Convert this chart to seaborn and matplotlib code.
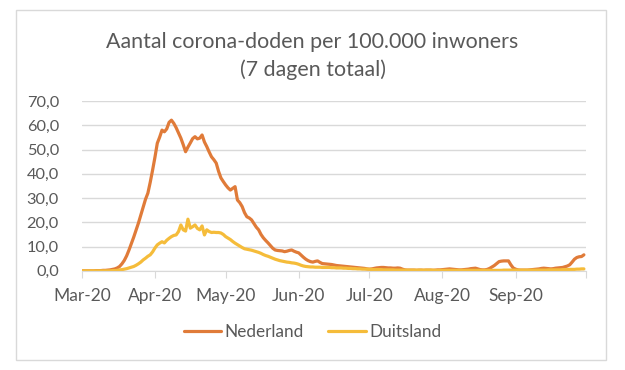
import matplotlib.pyplot as plt
import matplotlib.dates as mdates
from matplotlib.patches import Rectangle
from matplotlib.ticker import FuncFormatter
import seaborn as sb
import pandas as pd


# 7-day totals per 100,000 inhabitants, daily from 1 Mar 2020 to 30 Sep 2020
first_day = '2020-03-01'
last_day = '2020-09-30'

nederland = [
    0.0, 0.0, 0.0, 0.0, 0.0, 0.0, 0.1,
    0.1, 0.1, 0.2, 0.2, 0.3, 0.4, 0.6,
    0.8, 1.2, 1.8, 2.9, 4.3, 6.2, 8.6,
    11.2, 13.9, 16.8, 19.7, 23.0, 26.4, 29.5,
    32.0, 36.5, 41.5, 46.8, 52.6, 55.1, 58.0,
    57.3, 58.5, 61.2, 62.1, 60.8, 59.0, 56.8,
    54.7, 52.0, 49.1, 51.0, 52.7, 54.5, 55.3,
    54.4, 54.7, 56.0, 53.1, 51.2, 49.0, 47.0,
    45.8, 44.4, 41.0, 38.3, 36.8, 35.4, 34.2,
    33.3, 34.0, 34.7, 29.2, 28.1, 26.5, 24.0,
    22.3, 21.8, 21.0, 19.5, 18.0, 16.9, 15.0,
    13.6, 12.5, 11.5, 10.4, 9.3, 8.6, 8.4,
    8.3, 8.2, 7.9, 8.1, 8.4, 8.6, 8.1,
    7.7, 7.4, 6.5, 5.6, 4.8, 4.2, 3.8,
    3.6, 3.9, 4.1, 3.5, 3.0, 2.9, 2.8,
    2.7, 2.6, 2.4, 2.2, 2.1, 2.0, 1.9,
    1.8, 1.7, 1.6, 1.5, 1.4, 1.3, 1.2,
    1.1, 1.0, 0.8, 0.7, 0.8, 1.0, 1.2,
    1.3, 1.4, 1.4, 1.3, 1.2, 1.2, 1.1,
    1.1, 1.2, 1.1, 0.7, 0.4, 0.3, 0.3,
    0.3, 0.3, 0.2, 0.3, 0.3, 0.2, 0.3,
    0.3, 0.3, 0.2, 0.3, 0.4, 0.4, 0.5,
    0.6, 0.7, 0.8, 0.7, 0.6, 0.5, 0.4,
    0.4, 0.5, 0.6, 0.7, 0.9, 1.0, 1.1,
    0.8, 0.5, 0.4, 0.4, 0.6, 1.0, 1.6,
    2.2, 3.0, 3.8, 4.0, 4.1, 4.1, 4.1,
    2.5, 1.2, 0.7, 0.4, 0.3, 0.3, 0.3,
    0.3, 0.4, 0.5, 0.6, 0.7, 0.8, 1.0,
    1.1, 1.0, 0.9, 0.8, 0.9, 1.1, 1.2,
    1.3, 1.4, 1.7, 2.0, 2.5, 3.6, 4.8,
    5.5, 5.8, 5.9, 6.6,
]

duitsland = [
    0.0, 0.0, 0.0, 0.0, 0.0, 0.0, 0.0,
    0.0, 0.0, 0.0, 0.0, 0.0, 0.0, 0.1,
    0.1, 0.2, 0.4, 0.5, 0.7, 0.9, 1.2,
    1.5, 1.8, 2.3, 2.9, 3.6, 4.5, 5.2,
    6.0, 6.6, 7.8, 9.4, 10.7, 11.4, 12.0,
    11.5, 12.6, 13.4, 14.1, 14.6, 14.8, 16.2,
    18.9, 16.9, 16.4, 21.3, 17.6, 18.2, 18.9,
    17.5, 16.9, 18.5, 14.8, 16.9, 16.2, 15.8,
    15.9, 15.8, 15.8, 15.6, 15.0, 14.1, 13.5,
    12.9, 12.1, 11.4, 10.8, 10.2, 9.6, 9.1,
    8.9, 8.7, 8.5, 8.2, 7.9, 7.6, 7.2,
    6.7, 6.3, 6.0, 5.6, 5.2, 4.8, 4.5,
    4.2, 4.0, 3.8, 3.6, 3.5, 3.3, 3.2,
    3.0, 2.7, 2.3, 2.0, 1.8, 1.7, 1.6,
    1.6, 1.5, 1.5, 1.5, 1.4, 1.4, 1.4,
    1.4, 1.3, 1.3, 1.2, 1.2, 1.2, 1.1,
    1.1, 1.0, 1.0, 0.9, 0.9, 0.8, 0.8,
    0.7, 0.7, 0.7, 0.6, 0.6, 0.5, 0.5,
    0.5, 0.5, 0.4, 0.4, 0.4, 0.4, 0.4,
    0.3, 0.3, 0.3, 0.3, 0.3, 0.3, 0.3,
    0.3, 0.3, 0.3, 0.3, 0.3, 0.3, 0.3,
    0.3, 0.3, 0.3, 0.2, 0.2, 0.2, 0.2,
    0.2, 0.2, 0.2, 0.2, 0.2, 0.2, 0.2,
    0.2, 0.2, 0.2, 0.2, 0.2, 0.2, 0.2,
    0.2, 0.2, 0.2, 0.2, 0.2, 0.2, 0.2,
    0.2, 0.2, 0.2, 0.2, 0.3, 0.3, 0.3,
    0.3, 0.3, 0.3, 0.3, 0.3, 0.3, 0.3,
    0.3, 0.3, 0.3, 0.3, 0.3, 0.3, 0.3,
    0.3, 0.3, 0.4, 0.4, 0.4, 0.4, 0.4,
    0.4, 0.5, 0.5, 0.5, 0.6, 0.6, 0.6,
    0.7, 0.7, 0.8, 0.8,
]

countries = ['Nederland', 'Duitsland']
colours = ['#E07B39', '#F5BC3A']
title = 'Aantal corona-doden per 100.000 inwoners\n(7 dagen totaal)'

dates = pd.date_range(first_day, last_day)
frame = pd.DataFrame({'datum': dates, 'Nederland': nederland, 'Duitsland': duitsland})
frame = frame.melt(id_vars='datum', var_name='land', value_name='doden')

sb.set_style('white')
plt.rcParams['font.family'] = ['Lato', 'DejaVu Sans']
grey = '#595959'

fig = plt.figure(figsize=(6.25, 3.7), dpi=100)
ax = fig.add_axes([0.131, 0.268, 0.807, 0.459])

sb.lineplot(data=frame, x='datum', y='doden', hue='land', hue_order=countries,
            palette=colours, linewidth=2.3, ax=ax, legend=False)

ax.set_ylim(0, 70)
ax.set_yticks(range(0, 71, 10))
ax.yaxis.set_major_formatter(FuncFormatter(lambda v, p: f'{v:.1f}'.replace('.', ',')))
ax.set_xlim(pd.Timestamp('2020-03-01'), pd.Timestamp('2020-10-01'))
ax.xaxis.set_major_locator(mdates.MonthLocator())
ax.xaxis.set_major_formatter(FuncFormatter(
    lambda v, p: '' if mdates.num2date(v).month == 10 else mdates.num2date(v).strftime('%b-%y')))

ax.grid(axis='y', color='#d9d9d9', linewidth=1)
ax.set_axisbelow(True)
for side in ['top', 'right', 'left']:
    ax.spines[side].set_visible(False)
ax.spines['bottom'].set_color('#d9d9d9')
ax.tick_params(axis='x', bottom=True, length=5, color='#d9d9d9', colors=grey,
               labelsize=12.5, pad=7)
ax.tick_params(axis='y', left=False, colors=grey, labelsize=11.8, pad=13)
ax.set_xlabel('')
ax.set_ylabel('')

fig.text(0.5, 0.849, title, ha='center', va='center', fontsize=15.4,
         color=grey, linespacing=1.45)

handles = [plt.Line2D([], [], color=c, linewidth=2.3) for c in colours]
fig.legend(handles, countries, loc='center', bbox_to_anchor=(0.5, 0.103), ncol=2,
           frameon=False, fontsize=12.3, labelcolor=grey, handlelength=2.2,
           handletextpad=0.2, columnspacing=1.4)

fig.patches.append(Rectangle((16 / 625, 1 - 360 / 370), 590 / 625, 350 / 370,
                             transform=fig.transFigure, fill=False,
                             edgecolor='#d9d9d9', linewidth=1))

plt.savefig('out.png', dpi=100)
